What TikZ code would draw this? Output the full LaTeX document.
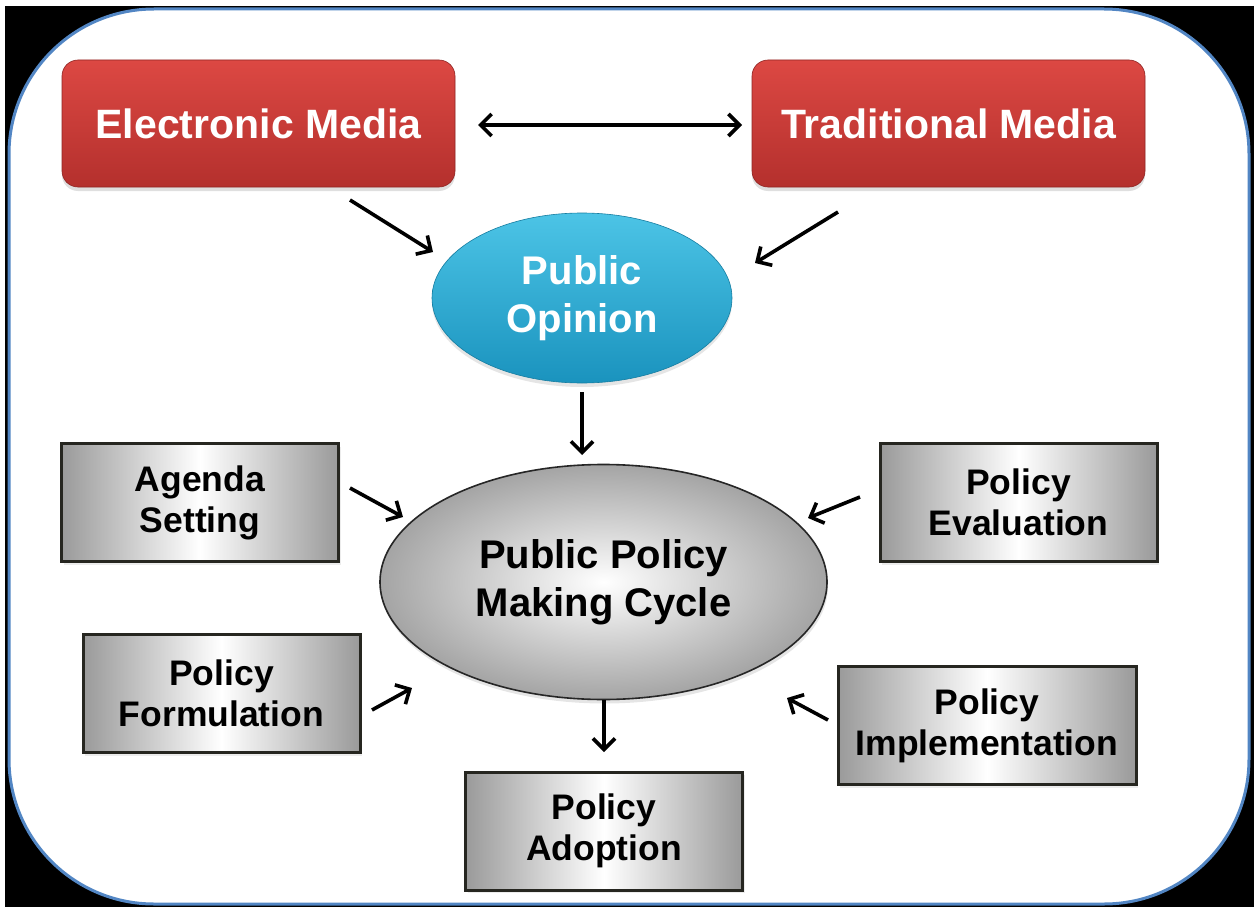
\documentclass[tikz,border=0pt]{standalone}
\usepackage{fontspec}
\setmainfont{Liberation Sans}
\usetikzlibrary{arrows.meta,shapes.geometric,shadows}

\definecolor{frameblue}{HTML}{5286C4}
\definecolor{redtop}{HTML}{DC4843}
\definecolor{redbot}{HTML}{B4302D}
\definecolor{cyantop}{HTML}{4CC4E6}
\definecolor{cyanbot}{HTML}{1A93BE}
\definecolor{greyedge}{HTML}{9A9A9A}
\definecolor{boxline}{HTML}{262620}

\tikzset{
  mediabox/.style={rectangle, rounded corners=16pt, minimum width=393pt,
    minimum height=127pt, inner sep=0pt, top color=redtop, bottom color=redbot,
    draw=redbot!80!black, line width=0.6pt, text=white,
    font=\bfseries\fontsize{41}{48}\selectfont,
    drop shadow={shadow xshift=0pt, shadow yshift=-4pt, opacity=0.25}},
  stagebox/.style={rectangle, minimum width=277pt, minimum height=118pt,
    inner sep=0pt, left color=greyedge, right color=greyedge, middle color=white,
    draw=boxline, line width=3pt, align=center, text=black,
    font=\bfseries\fontsize{35.5}{41}\selectfont,
    drop shadow={shadow xshift=2pt, shadow yshift=-3pt, opacity=0.15}},
  opinion/.style={ellipse, minimum width=300pt, minimum height=170pt,
    inner sep=0pt, top color=cyantop, bottom color=cyanbot,
    draw=cyanbot!85!black, line width=0.6pt, align=center, text=white,
    font=\bfseries\fontsize{40}{48}\selectfont,
    drop shadow={shadow xshift=0pt, shadow yshift=-4pt, opacity=0.2}},
  cycle/.style={ellipse, minimum width=447pt, minimum height=235pt,
    inner sep=0pt, inner color=white, outer color=greyedge!90,
    draw=black!85, line width=1.6pt, align=center, text=black,
    font=\bfseries\fontsize{40}{48}\selectfont,
    drop shadow={shadow xshift=1pt, shadow yshift=-4pt, opacity=0.2}},
  arr/.style={-{Straight Barb[length=11pt,width=22pt]}, line width=3.6pt, black},
  dblarr/.style={{Straight Barb[length=11pt,width=22pt]}-{Straight Barb[length=11pt,width=22pt]},
    line width=3.6pt, black}
}

\begin{document}
\begin{tikzpicture}[x=1pt, y=-1pt]
  \useasboundingbox (0,0) rectangle (1254,907);
  % page and rounded frame
  \fill[white] (0,0) rectangle (1254,907);
  \fill[black] (5,6) rectangle (1254,907);
  \draw[frameblue, fill=white, line width=3pt, rounded corners=145pt]
    (9,9) rectangle (1249,904);

  % media sources
  \node[mediabox] (em) at (258.5,123.5) {Electronic Media};
  \node[mediabox] (tm) at (948.5,123.5) {Traditional Media};

  % public opinion
  \node[opinion] (po) at (582,298) {Public\\Opinion};

  % policy cycle
  \node[cycle] (pc) at (603.5,582) {Public Policy\\Making Cycle};

  % stages
  \node[stagebox] (as) at (200,502.5) {Agenda\\Setting};
  \node[stagebox] (pe) at (1018.5,502.5) {Policy\\Evaluation};
  \node[stagebox] (pf) at (221.5,693.5) {Policy\\Formulation};
  \node[stagebox, minimum width=298pt] (pi) at (987,725.5) {Policy\\Implementation};
  \node[stagebox] (pa) at (604,831) {Policy\\Adoption};

  % arrow end points
  \coordinate (emtm1) at (478,125);
  \coordinate (emtm2) at (742,125);
  \coordinate (em1) at (350,200);
  \coordinate (em2) at (433,252);
  \coordinate (tm1) at (838,212);
  \coordinate (tm2) at (755,263);
  \coordinate (po1) at (582,392);
  \coordinate (po2) at (582,455);
  \coordinate (as1) at (350,488);
  \coordinate (as2) at (403,517);
  \coordinate (pe1) at (860,497);
  \coordinate (pe2) at (808,518);
  \coordinate (pf1) at (372,710);
  \coordinate (pf2) at (412,688);
  \coordinate (pi1) at (828,720);
  \coordinate (pi2) at (787,698);
  \coordinate (pa1) at (604,700);
  \coordinate (pa2) at (604,752);

  % connectors
  \draw[dblarr] (emtm1) -- (emtm2);
  \draw[arr] (em1) -- (em2);
  \draw[arr] (tm1) -- (tm2);
  \draw[arr] (po1) -- (po2);
  \draw[arr] (as1) -- (as2);
  \draw[arr] (pe1) -- (pe2);
  \draw[arr] (pf1) -- (pf2);
  \draw[arr] (pi1) -- (pi2);
  \draw[arr] (pa1) -- (pa2);
\end{tikzpicture}
\end{document}
